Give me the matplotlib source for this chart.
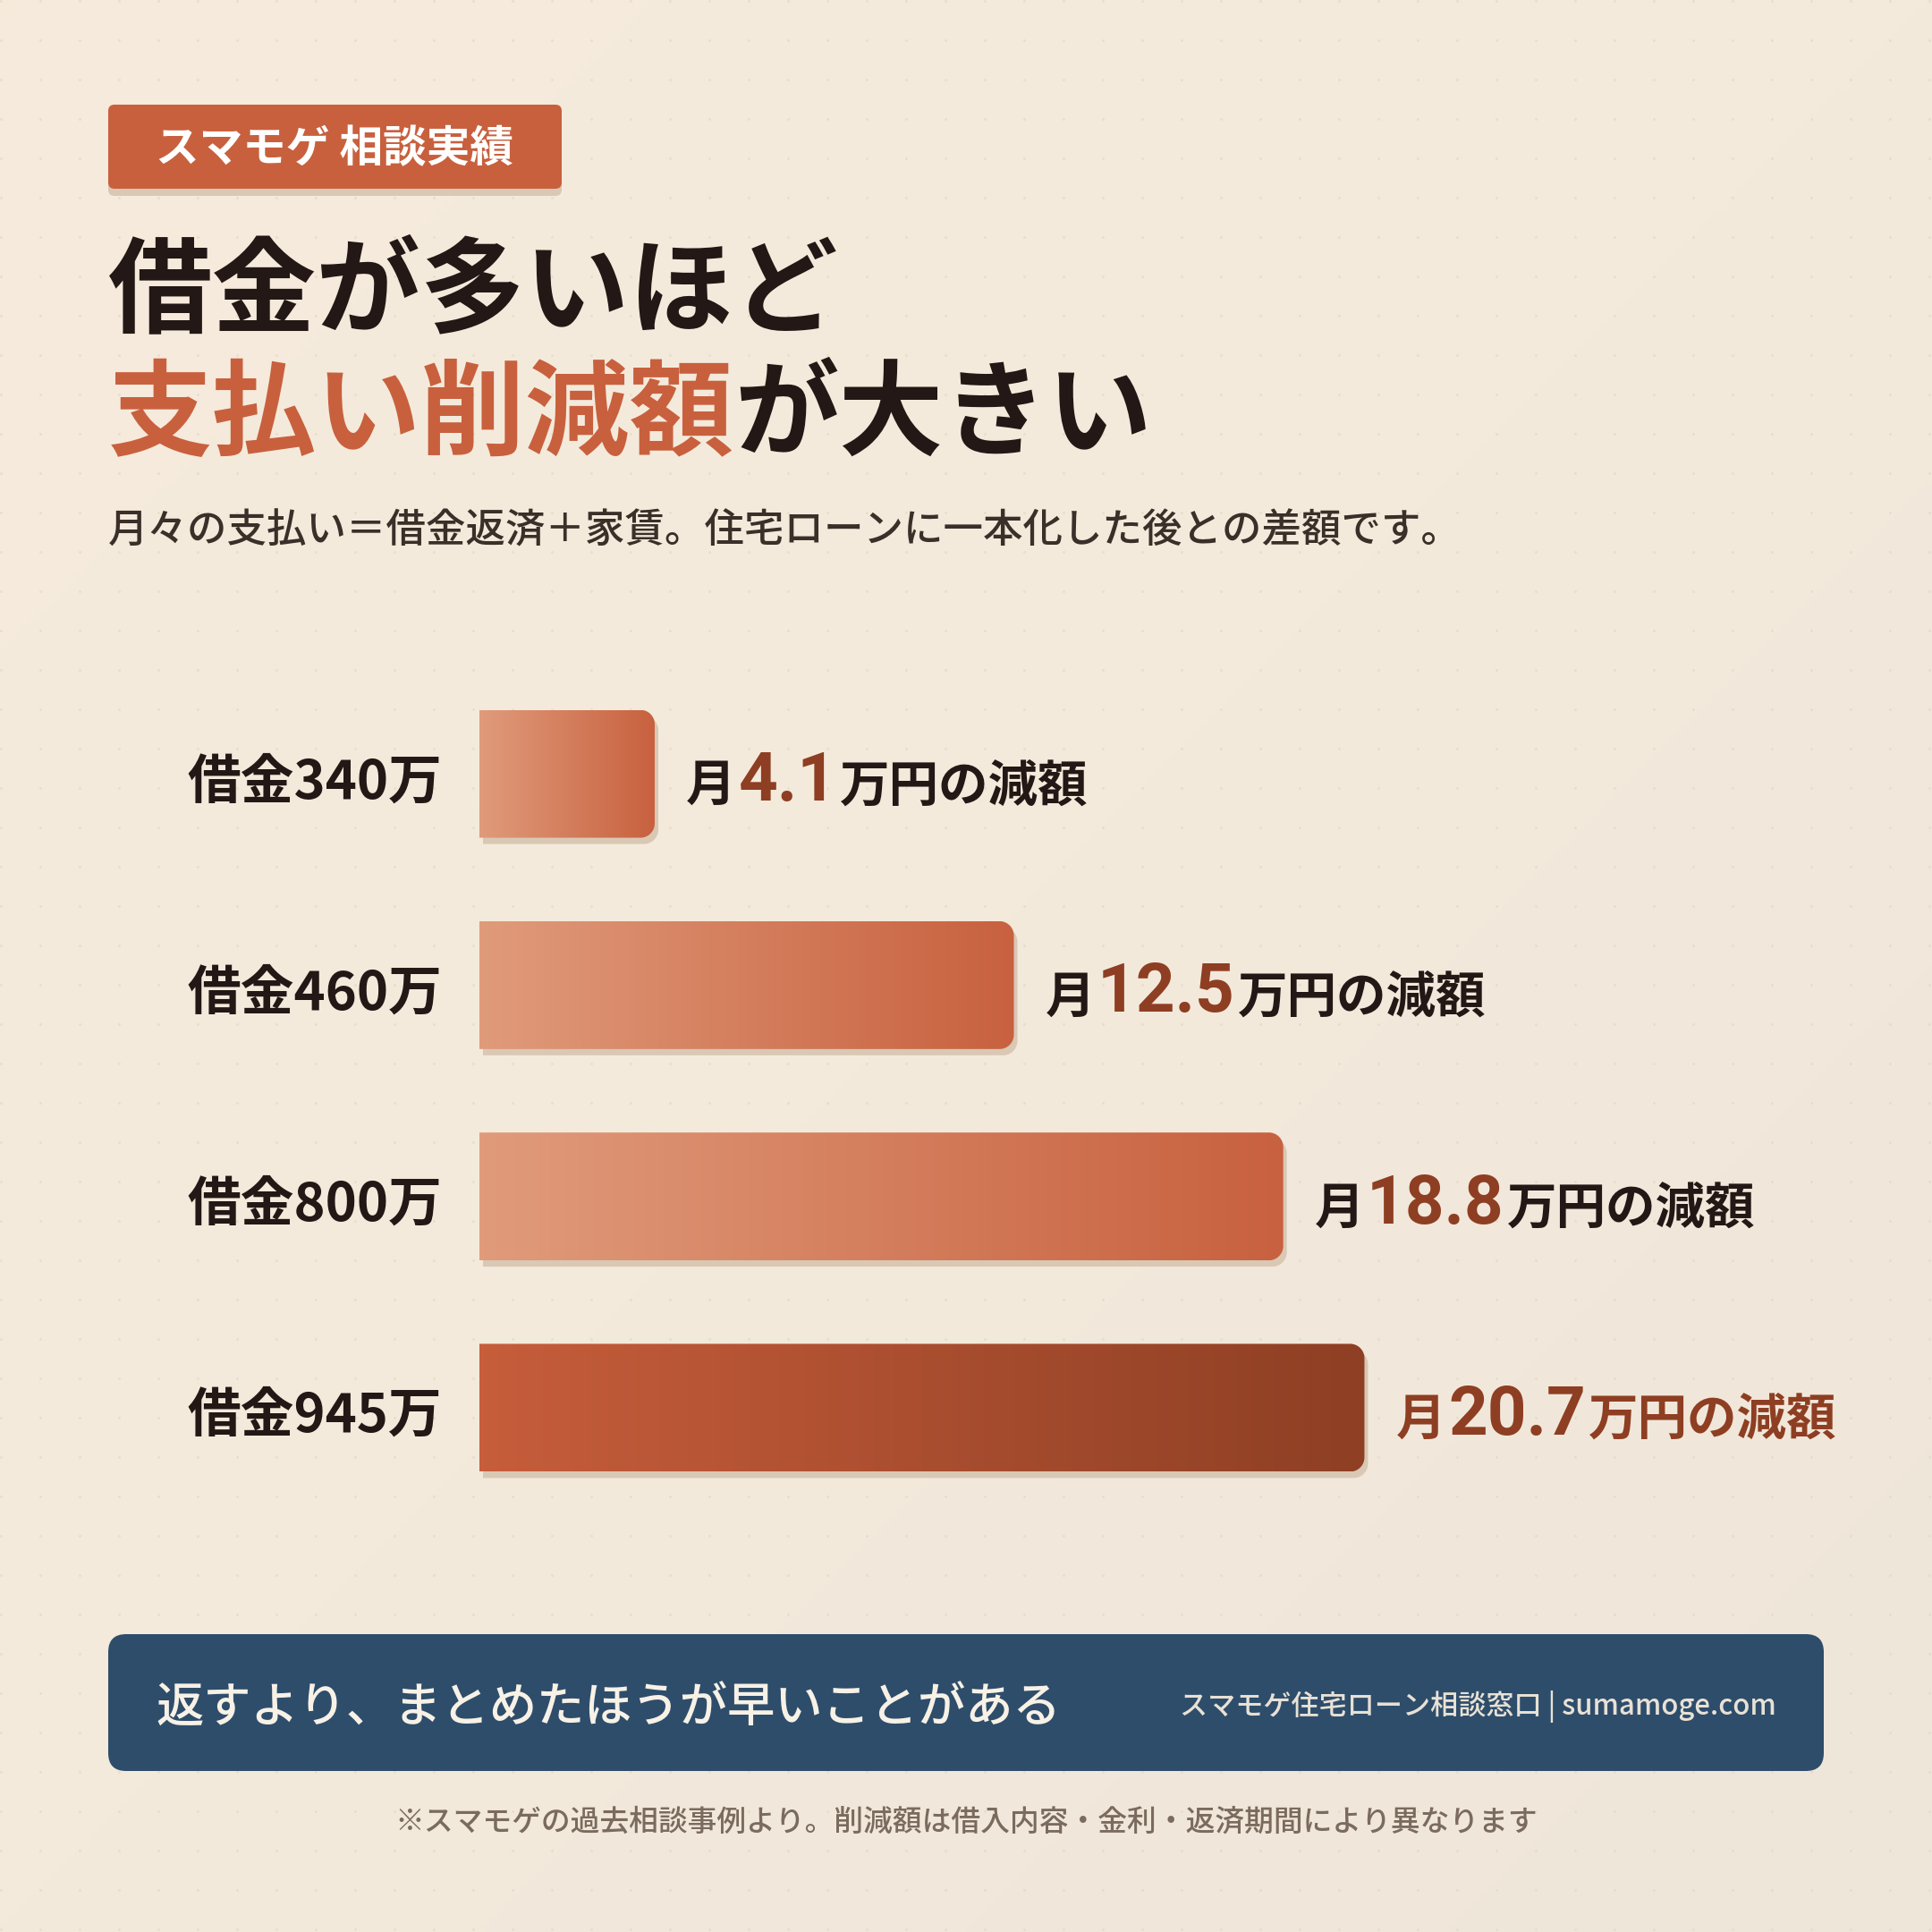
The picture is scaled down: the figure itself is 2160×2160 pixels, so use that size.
import numpy as np
import matplotlib.pyplot as plt
from matplotlib.patches import FancyBboxPatch, PathPatch
from matplotlib.path import Path
from matplotlib.colors import LinearSegmentedColormap

# data
debt_labels = ['借金340万', '借金460万', '借金800万', '借金945万']
reduction = [4.1, 12.5, 18.8, 20.7]
reduction_text = ['4.1', '12.5', '18.8', '20.7']
highlight = [False, False, False, True]

badge_text = 'スマモゲ 相談実績'
title_line1 = '借金が多いほど'
title_accent = '支払い削減額'
title_rest = 'が大きい'
subtitle = '月々の支払い＝借金返済＋家賃。住宅ローンに一本化した後との差額です。'
footer_left = '返すより、まとめたほうが早いことがある'
footer_right = 'スマモゲ住宅ローン相談窓口 | sumamoge.com'
footnote = '※スマモゲの過去相談事例より。削減額は借入内容・金利・返済期間により異なります'

JP = ['Noto Sans CJK JP', 'DejaVu Sans']
NUM = ['Roboto', 'DejaVu Sans']
ORANGE = '#C8603E'
DARK = '#231815'
RUST = '#8E3E22'
NAVY = '#2E4D6B'
SHADOW = '#D9C8B4'

W = 2160
fig = plt.figure(figsize=(10.8, 10.8), dpi=200)
ax = fig.add_axes([0, 0, 1, 1])
ax.set_xlim(0, W)
ax.set_ylim(W, 0)
ax.axis('off')

# background gradient + faint dots
g = np.linspace(0, 1, 256)
gx, gy = np.meshgrid(g, g)
bg_cmap = LinearSegmentedColormap.from_list('bg', ['#F6EBDB', '#F3EADC', '#EFE6DA'])
ax.imshow((gx + gy) / 2, cmap=bg_cmap, extent=(0, W, W, 0), aspect='auto', zorder=0)
dx, dy = np.meshgrid(np.arange(1, W, 44), np.arange(1, W, 44))
ax.scatter(dx.ravel(), dy.ravel(), s=1.2, color='#E4D6C3', alpha=0.6, linewidths=0, zorder=0.5)

# badge
ax.add_patch(FancyBboxPatch((121, 125), 507, 94, boxstyle='round,pad=0,rounding_size=7',
                            fc=SHADOW, ec='none', zorder=1))
ax.add_patch(FancyBboxPatch((121, 117), 507, 94, boxstyle='round,pad=0,rounding_size=7',
                            fc=ORANGE, ec='none', zorder=2))
ax.text(374, 181, badge_text, fontsize=17.5, color='white', family=JP, weight='bold',
        ha='center', va='baseline', zorder=3)

# title
em = 42 * 200 / 72
ax.text(121, 362, title_line1, fontsize=42, color=DARK, family=JP, weight='bold', va='baseline')
ax.text(121, 500, title_accent, fontsize=42, color=ORANGE, family=JP, weight='bold', va='baseline')
ax.text(121 + len(title_accent) * em, 500, title_rest, fontsize=42, color=DARK, family=JP,
        weight='bold', va='baseline')

ax.text(121, 607, subtitle, fontsize=16, color='#3B2F29', family=JP, weight='medium', va='baseline')

# bars
bax = fig.add_axes([536 / W, (W - 1692) / W, 1434 / W, 945 / W])
bax.axis('off')
bax.patch.set_alpha(0)

light_cmap = LinearSegmentedColormap.from_list('light', ['#E09B7B', '#C8613F'])
dark_cmap = LinearSegmentedColormap.from_list('dark', ['#C65D3B', '#8E3F24'])

rx, ry = 16 / 47.8, 16 / 236.3


def right_round(x0, y0, x1, y1, n=16):
    verts = [(x0, y0), (x1 - rx, y0)]
    for a in np.linspace(-np.pi / 2, 0, n):
        verts.append((x1 - rx + rx * np.cos(a), y0 + ry + ry * np.sin(a)))
    for a in np.linspace(0, np.pi / 2, n):
        verts.append((x1 - rx + rx * np.cos(a), y1 - ry + ry * np.sin(a)))
    verts += [(x0, y1), (x0, y0)]
    codes = [Path.MOVETO] + [Path.LINETO] * (len(verts) - 2) + [Path.CLOSEPOLY]
    return Path(verts, codes)


bars = bax.barh(range(len(reduction)), reduction, height=0.605)
for i, rect in enumerate(bars):
    rect.set_visible(False)
    x0, y0 = rect.get_x(), rect.get_y()
    x1, y1 = x0 + rect.get_width(), y0 + rect.get_height()
    sh = right_round(x0 + 4 / 47.8, y0 + 7 / 236.3, x1 + 4 / 47.8, y1 + 7 / 236.3)
    bax.add_patch(PathPatch(sh, fc=SHADOW, ec='none', zorder=1))
    clip = PathPatch(right_round(x0, y0, x1, y1), fc='none', ec='none', zorder=2)
    bax.add_patch(clip)
    im = bax.imshow(np.linspace(0, 1, 256).reshape(1, -1),
                    cmap=dark_cmap if highlight[i] else light_cmap,
                    extent=(x0, x1, y1, y0), aspect='auto', interpolation='bicubic', zorder=2)
    im.set_clip_path(clip)
bax.set_xlim(0, 30)
bax.set_ylim(3.5, -0.5)

# labels
r = fig.canvas.get_renderer()


def seg(x, y, s, size, color, family):
    t = ax.text(x, y, s, fontsize=size, color=color, family=family, weight='bold',
                va='baseline', ha='left', zorder=5)
    return x + t.get_window_extent(renderer=r).width


for i, val in enumerate(reduction):
    xd, yd = bax.transData.transform((val, i))
    yc = W - yd
    ax.text(494, yc + 27, debt_labels[i], fontsize=21.5, color=DARK, family=JP, weight='bold',
            ha='right', va='baseline')
    c_txt = RUST if highlight[i] else DARK
    x = xd + 35
    x = seg(x, yc + 30, '月', 20, c_txt, JP) + 3
    x = seg(x, yc + 30, reduction_text[i], 27.5, RUST, NUM) + 3
    seg(x, yc + 30, '万円の減額', 20, c_txt, JP)

# footer
ax.add_patch(FancyBboxPatch((121, 1827), 1918, 153, boxstyle='round,pad=0,rounding_size=20',
                            fc=NAVY, ec='none', zorder=2))
ax.text(174, 1926, footer_left, fontsize=19.2, color='#F7F1E6', family=JP, weight='medium',
        va='baseline', zorder=3)
ax.text(1986, 1917, footer_right, fontsize=11.2, color='#E8E1D5', family=JP, weight='medium',
        ha='right', va='baseline', zorder=3)
ax.text(1080, 2047, footnote, fontsize=11.8, color='#7A6B5E', family=JP, weight='medium',
        ha='center', va='baseline')

fig.savefig('out.png', dpi=200)
